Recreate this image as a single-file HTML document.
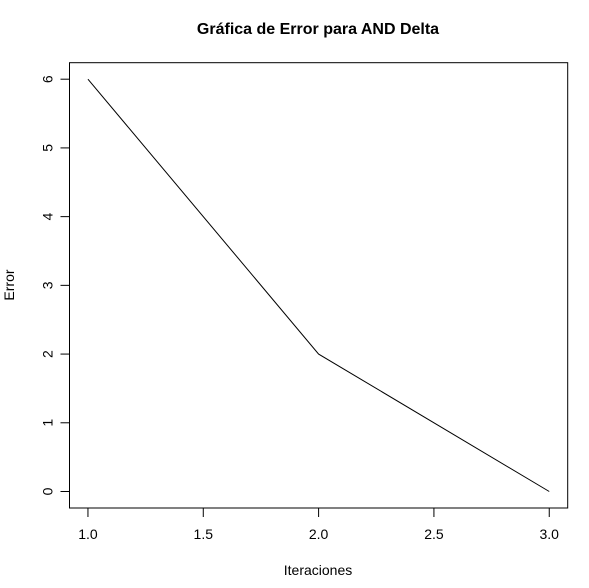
<!DOCTYPE html>
<html><head><meta charset="utf-8"><style>
body{margin:0;background:#fff}
svg{display:block;font-family:"Liberation Sans",Arial,sans-serif}
</style></head><body>
<svg id="chart" width="589" height="588">
<text x="318" y="34" text-anchor="middle" font-weight="bold" font-size="16">Gráfica de Error para AND Delta</text>
<text x="318" y="575" text-anchor="middle" font-size="14">Iteraciones</text>
<text transform="translate(14,285) rotate(-90)" text-anchor="middle" font-size="14">Error</text>
<rect x="69.5" y="62.7" width="498.2" height="445.3" fill="none" stroke="#000" stroke-width="1"/>
<g id="axes"></g>
<g id="series"></g>
</svg>
<script>
const iterations=[1,2,3];
const errors=[6,2,0];
const xTicks=["1.0","1.5","2.0","2.5","3.0"];
const yTicks=[0,1,2,3,4,5,6];
const L=69.5,R=567.7,T=62.7,B=508;
const xmin=1-0.04*2,xmax=3+0.04*2,ymin=0-0.04*6,ymax=6+0.04*6;
const sx=v=>L+(v-xmin)/(xmax-xmin)*(R-L);
const sy=v=>B-(v-ymin)/(ymax-ymin)*(B-T);
const NS="http://www.w3.org/2000/svg";
const ax=document.getElementById('axes');
function mk(t,a,p){const e=document.createElementNS(NS,t);for(const k in a)e.setAttribute(k,a[k]);p.appendChild(e);return e;}
const xa=mk('line',{x1:sx(1),x2:sx(3),y1:B,y2:B,stroke:'#000'},ax);


xTicks.forEach(t=>{const v=parseFloat(t);
const l=mk('line',{x1:sx(v),x2:sx(v),y1:B,y2:B+9,stroke:'#000'},ax);


const tx=mk('text',{x:sx(v),y:B+31,'text-anchor':'middle','font-size':14},ax);tx.textContent=t;

});
const ya=mk('line',{x1:L,x2:L,y1:sy(0),y2:sy(6),stroke:'#000'},ax);


yTicks.forEach(v=>{
const l=mk('line',{x1:L-9,x2:L,y1:sy(v),y2:sy(v),stroke:'#000'},ax);


const tx=mk('text',{transform:`translate(${L-22},${sy(v)}) rotate(-90)`,'text-anchor':'middle','dominant-baseline':'central','font-size':14},ax);tx.textContent=v;

});
const pl=mk('polyline',{points:iterations.map((x,i)=>sx(x)+','+sy(errors[i])).join(' '),fill:'none',stroke:'#000','stroke-width':1},document.getElementById('series'));


</script>
</body></html>
